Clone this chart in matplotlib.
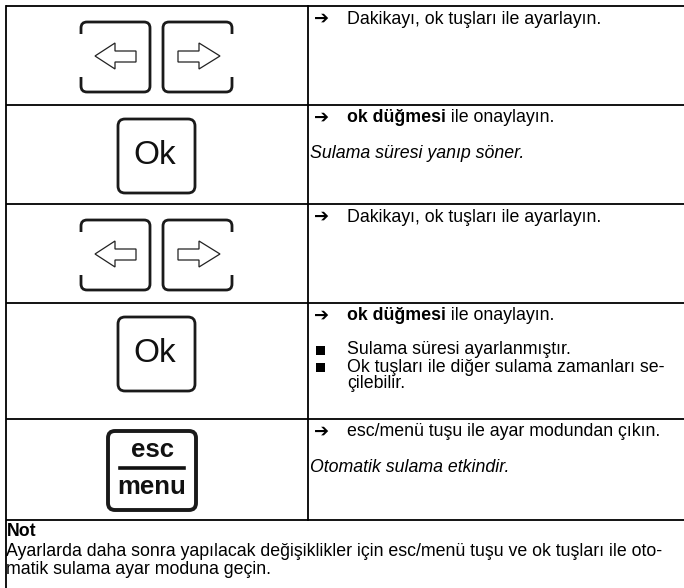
import matplotlib
matplotlib.use("Agg")
import matplotlib.pyplot as plt
from matplotlib.patches import FancyBboxPatch, Rectangle, Polygon

W, H = 684, 588
FONT = ['Liberation Sans', 'DejaVu Sans']

# ---- content ----
row_lines = [6, 105, 204, 303, 419, 520]
row_keys = ["arrows", "ok", "arrows", "ok", "esc"]
arrow_lines = [
    "Dakikayı, ok tuşları ile ayarlayın.",
    None,
    "Dakikayı, ok tuşları ile ayarlayın.",
    None,
    "esc/menü tuşu ile ayar modundan çıkın.",
]
bold_parts = [None, ("ok düğmesi", " ile onaylayın."), None, ("ok düğmesi", " ile onaylayın."), None]
italic_notes = [None, "Sulama süresi yanıp söner.", None, None, "Otomatik sulama etkindir."]
bullets_row4 = ["Sulama süresi ayarlanmıştır.", "Ok tuşları ile diğer sulama zamanları se-"]
bullet_cont = "çilebilir."
note_title = "Not"
note_lines = ["Ayarlarda daha sonra yapılacak değişiklikler için esc/menü tuşu ve ok tuşları ile oto-",
              "matik sulama ayar moduna geçin."]

fig = plt.figure(figsize=(W / 100, H / 100), dpi=100)
ax = fig.add_axes([0, 0, 1, 1])
ax.set_xlim(0, W)
ax.set_ylim(H, 0)
ax.axis('off')

LW = 1.3
XL, XC, XR = 5.5, 308, 684
# table lines
for y in row_lines:
    ax.plot([XL, XR], [y, y], color='black', lw=LW, solid_capstyle='butt')
ax.plot([XL, XL], [row_lines[0], H], color='black', lw=LW)
ax.plot([XC, XC], [row_lines[0], row_lines[-1]], color='black', lw=LW)

FS = 12.8


def rkey(x0, y0, x1, y1, lw=2.0, r=6, gap=None):
    p = FancyBboxPatch((x0 + r, y0 + r), (x1 - x0) - 2 * r, (y1 - y0) - 2 * r,
                       boxstyle=f"round,pad={r},rounding_size={r}",
                       fc='white', ec='#1a1a1a', lw=lw, zorder=3)
    ax.add_patch(p)
    if gap is not None:
        side, g0, g1 = gap
        gx = x0 if side == 'l' else x1
        ax.add_patch(Rectangle((gx - 3, g0), 6, g1 - g0, fc='white', ec='none', zorder=4))


def arrow_keys(dy):
    rkey(81, 22 + dy, 150, 92 + dy, gap=('l', 34 + dy, 77 + dy))
    rkey(163, 22 + dy, 232, 92 + dy, gap=('r', 34 + dy, 77 + dy))
    left = [(95, 56), (115, 43), (115, 51), (136, 51), (136, 62), (115, 62), (115, 69)]
    right = [(220, 56), (199, 43), (199, 51), (178, 51), (178, 62), (199, 62), (199, 69)]
    for pts in (left, right):
        ax.add_patch(Polygon([(x, y + dy) for x, y in pts], closed=True, fc='white',
                             ec='#222222', lw=0.9, zorder=5))


def ok_key(dy):
    rkey(118, 119 + dy, 195, 193 + dy, lw=2.0, r=7)
    ax.text(155, 156 + dy, "Ok", fontsize=24, family=FONT, ha='center', va='center',
            color='#111111', zorder=6)


def esc_key():
    rkey(108, 431, 196, 510, lw=2.8, r=7)
    ax.text(152, 450, "esc", fontsize=18.5, family=FONT, weight='bold', ha='center', va='center',
            color='#111111', zorder=6)
    ax.plot([120, 184], [467.5, 467.5], color='#111111', lw=2.6, zorder=6)
    ax.text(152, 487, "menu", fontsize=18.5, family=FONT, weight='bold', ha='center', va='center',
            color='#111111', zorder=6)


for i, k in enumerate(row_keys):
    dy = row_lines[i] - row_lines[0]
    if k == "arrows":
        arrow_keys(dy)
    elif k == "ok":
        ok_key(row_lines[i] - row_lines[1])
    else:
        esc_key()

TX = 347
AX = 314
for i in range(5):
    top = row_lines[i]
    y = top + 13
    if arrow_lines[i] is not None or bold_parts[i] is not None:
        ax.text(AX, y, "➔", fontsize=13, family=['DejaVu Sans'], weight='bold', ha='left',
                va='center', color='black')
    if arrow_lines[i] is not None:
        ax.text(TX, y, arrow_lines[i], fontsize=FS, family=FONT, ha='left', va='center')
    if bold_parts[i] is not None:
        t = ax.text(TX, y, bold_parts[i][0], fontsize=FS, family=FONT, weight='bold',
                    ha='left', va='center')
        fig.canvas.draw()
        bb = t.get_window_extent()
        x_end = ax.transData.inverted().transform((bb.x1, bb.y0))[0]
        ax.text(x_end, y, bold_parts[i][1], fontsize=FS, family=FONT, ha='left', va='center')
    if italic_notes[i] is not None:
        ax.text(310, top + 48, italic_notes[i], fontsize=FS, family=FONT, style='italic',
                ha='left', va='center')

# bullets in row 4
top = row_lines[3]
for j, b in enumerate(bullets_row4):
    yy = top + 47 + j * 17
    ax.add_patch(Rectangle((316, yy - 4.5), 9, 9, fc='black', ec='none'))
    ax.text(TX, yy, b, fontsize=FS, family=FONT, ha='left', va='center')
ax.text(TX, top + 47 + 2 * 17, bullet_cont, fontsize=FS, family=FONT, ha='left', va='center')

# note
ax.text(7, 531, note_title, fontsize=FS, family=FONT, weight='bold', ha='left', va='center')
for j, ln in enumerate(note_lines):
    ax.text(6, 552 + j * 18, ln, fontsize=FS, family=FONT, ha='left', va='center')

fig.savefig("out.png", dpi=100)
